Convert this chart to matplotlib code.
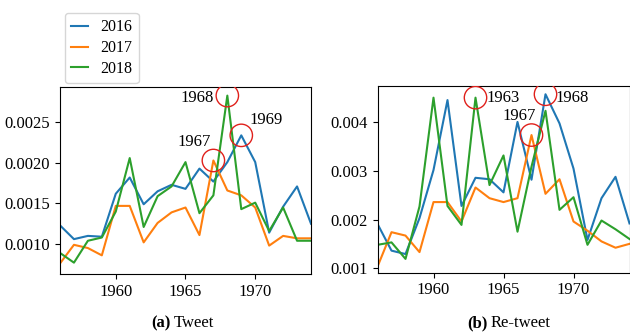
import numpy as np
import matplotlib
matplotlib.use("Agg")
import matplotlib.pyplot as plt

plt.rcParams['font.family'] = ['Liberation Serif', 'DejaVu Serif']
plt.rcParams['font.size'] = 12

years = np.arange(1956, 1975)

# (a) Tweet
tweet_2016 = [0.00123, 0.00106, 0.00110, 0.00109, 0.00162, 0.00182, 0.00149, 0.00165, 0.00173, 0.00168,
              0.00193, 0.00177, 0.00201, 0.00234, 0.00201, 0.00114, 0.00146, 0.00171, 0.00125]
tweet_2017 = [0.00076, 0.00099, 0.00095, 0.00086, 0.00147, 0.00147, 0.00102, 0.00126, 0.00139, 0.00145,
              0.00111, 0.00203, 0.00166, 0.00160, 0.00145, 0.00098, 0.00110, 0.00107, 0.00107]
tweet_2018 = [0.00089, 0.00077, 0.00104, 0.00108, 0.00140, 0.00206, 0.00121, 0.00159, 0.00171, 0.00201,
              0.00138, 0.00160, 0.00283, 0.00143, 0.00151, 0.00116, 0.00145, 0.00104, 0.00104]

# (b) Re-tweet
retweet_2016 = [0.00191, 0.00136, 0.00129, 0.00203, 0.00302, 0.00446, 0.00228, 0.00286, 0.00283, 0.00256,
                0.00401, 0.00282, 0.00458, 0.00398, 0.00305, 0.00158, 0.00244, 0.00288, 0.00192]
retweet_2017 = [0.00103, 0.00174, 0.00167, 0.00133, 0.00236, 0.00236, 0.00196, 0.00266, 0.00244, 0.00236,
                0.00244, 0.00374, 0.00253, 0.00283, 0.00196, 0.00177, 0.00155, 0.00142, 0.00150]
retweet_2018 = [0.00148, 0.00153, 0.00119, 0.00227, 0.00451, 0.00228, 0.00189, 0.00451, 0.00271, 0.00332,
                0.00175, 0.00309, 0.00424, 0.00220, 0.00246, 0.00148, 0.00198, 0.00180, 0.00160]

labels = ['2016', '2017', '2018']

# highlighted peaks: (series index, year, text offset in points)
tweet_marks = [(1, 1967, (-14, 13)), (2, 1968, (-22, -2)), (0, 1969, (18, 11))]
retweet_marks = [(2, 1963, (20, 0)), (0, 1968, (19, -3)), (1, 1967, (-9, 14))]

fig = plt.figure(figsize=(6.3, 3.33), dpi=100)
ax1 = fig.add_axes([60/630, 1-274/333, 251/630, 187.3/333])
ax2 = fig.add_axes([377.5/630, 1-272.5/333, 252/630, 186.5/333])


def draw(ax, series, marks, ylim, yticks, fmt):
    lines = []
    for s, lab in zip(series, labels):
        l, = ax.plot(years, s, lw=1.5, label=lab)
        lines.append(l)
    for i, yr, off in marks:
        v = series[i][yr - years[0]]
        ax.scatter([yr], [v], s=260, facecolors='none', edgecolors='#e0201b', lw=1.0, zorder=5)
        ax.annotate(str(yr), (yr, v), xytext=off, textcoords='offset points',
                    ha='center', va='center', fontsize=12)
    ax.set_xlim(1956, 1974)
    ax.set_ylim(*ylim)
    ax.set_xticks([1960, 1965, 1970])
    ax.set_yticks(yticks)
    ax.set_yticklabels([fmt.format(t) for t in yticks])
    ax.tick_params(labelsize=12, length=3.5)
    return lines


lines = draw(ax1, [tweet_2016, tweet_2017, tweet_2018], tweet_marks,
             (0.00063, 0.00294), [0.0010, 0.0015, 0.0020, 0.0025], '{:.4f}')
draw(ax2, [retweet_2016, retweet_2017, retweet_2018], retweet_marks,
     (0.00091, 0.00475), [0.001, 0.002, 0.003, 0.004], '{:.3f}')

fig.legend(handles=lines, loc='upper left', bbox_to_anchor=(65/630, 1-13/333), borderaxespad=0,
           fontsize=11.5, handlelength=1.05, borderpad=0.4, labelspacing=0.3, handletextpad=0.75)

fig.text(171/630, 1-323/333, '(a)', ha='right', va='center', fontweight='bold', fontsize=12)
fig.text(174/630, 1-323/333, 'Tweet', ha='left', va='center', fontsize=12)
fig.text(488/630, 1-323/333, '(b)', ha='right', va='center', fontweight='bold', fontsize=12)
fig.text(491/630, 1-323/333, 'Re-tweet', ha='left', va='center', fontsize=12)

fig.savefig('out.png', dpi=100)
